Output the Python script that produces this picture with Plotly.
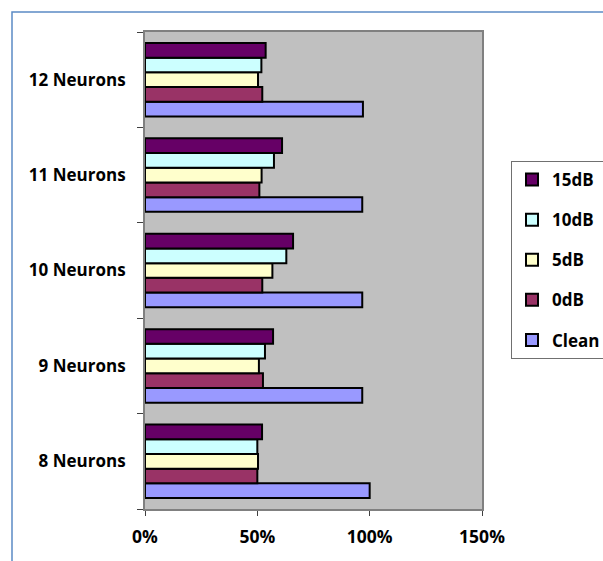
import plotly.graph_objects as go

categories = ["8 Neurons", "9 Neurons", "10 Neurons", "11 Neurons", "12 Neurons"]
series_names = ["Clean", "0dB", "5dB", "10dB", "15dB"]
clean = [1.000, 0.967, 0.967, 0.967, 0.970]
db0 = [0.500, 0.525, 0.522, 0.509, 0.522]
db5 = [0.503, 0.507, 0.567, 0.519, 0.503]
db10 = [0.500, 0.534, 0.629, 0.574, 0.518]
db15 = [0.521, 0.570, 0.659, 0.610, 0.537]
series_values = [clean, db0, db5, db10, db15]
colors = ["#9999FF", "#993366", "#FFFFCC", "#CCFFFF", "#660066"]
x_tick_vals = [0, 0.5, 1.0, 1.5]
x_tick_text = ["0%", "50%", "100%", "150%"]

FONT = "Open Sans"
fig = go.Figure()
n = len(series_names)
for i, (name, vals, col) in enumerate(zip(series_names, series_values, colors)):
    fig.add_trace(go.Bar(
        y=categories, x=vals, name=name, orientation="h",
        marker=dict(color=col, line=dict(color="black", width=2)),
        legendgroup=name, legendrank=n - i,
    ))

W, H = 603, 561
L, R, T, B = 145, 121, 32, 52
pw = W - L - R
ph = H - T - B

def px_x(x):
    return (x - L) / pw

def px_y(y):
    return (H - B - y) / ph

fig.update_layout(
    width=W, height=H,
    margin=dict(l=L, r=R, t=T, b=B, pad=0, autoexpand=False),
    paper_bgcolor="white",
    plot_bgcolor="#C0C0C0",
    barmode="group",
    bargap=0.23,
    bargroupgap=0,
    font=dict(family=FONT, size=17, color="black"),
    showlegend=True,
    legend=dict(
        x=px_x(511), y=px_y(161), xanchor="left", yanchor="top",
        traceorder="grouped",
        tracegroupgap=15,
        bgcolor="white", bordercolor="#707070", borderwidth=1,
        font=dict(family=FONT, size=17, color="black", weight="bold"),
        itemwidth=30,
    ),
    xaxis=dict(
        range=[0, 1.5], tickvals=x_tick_vals, ticktext=x_tick_text,
        showgrid=False, zeroline=False,
        showline=True, linecolor="#808080", linewidth=2, mirror=True,
        ticks="outside", ticklen=5, tickcolor="#404040", tickwidth=1,
        tickfont=dict(family=FONT, size=17.5, color="black", weight="bold"),
        ticklabelstandoff=6,
    ),
    yaxis=dict(
        type="category", categoryorder="array", categoryarray=categories,
        showgrid=False, zeroline=False,
        showline=True, linecolor="#808080", linewidth=2, mirror=True,
        ticks="outside", ticklen=6, tickcolor="#404040", tickwidth=1,
        tickson="boundaries",
        tickfont=dict(family=FONT, size=17, color="black", weight="bold"),
        ticklabelstandoff=14,
    ),
    shapes=[dict(
        type="rect", xref="paper", yref="paper",
        x0=px_x(12), x1=px_x(640), y0=px_y(600), y1=px_y(12),
        line=dict(color="#5B8BC5", width=1.5), fillcolor="rgba(0,0,0,0)",
        layer="below",
    )],
)

fig.write_html("out.html")
